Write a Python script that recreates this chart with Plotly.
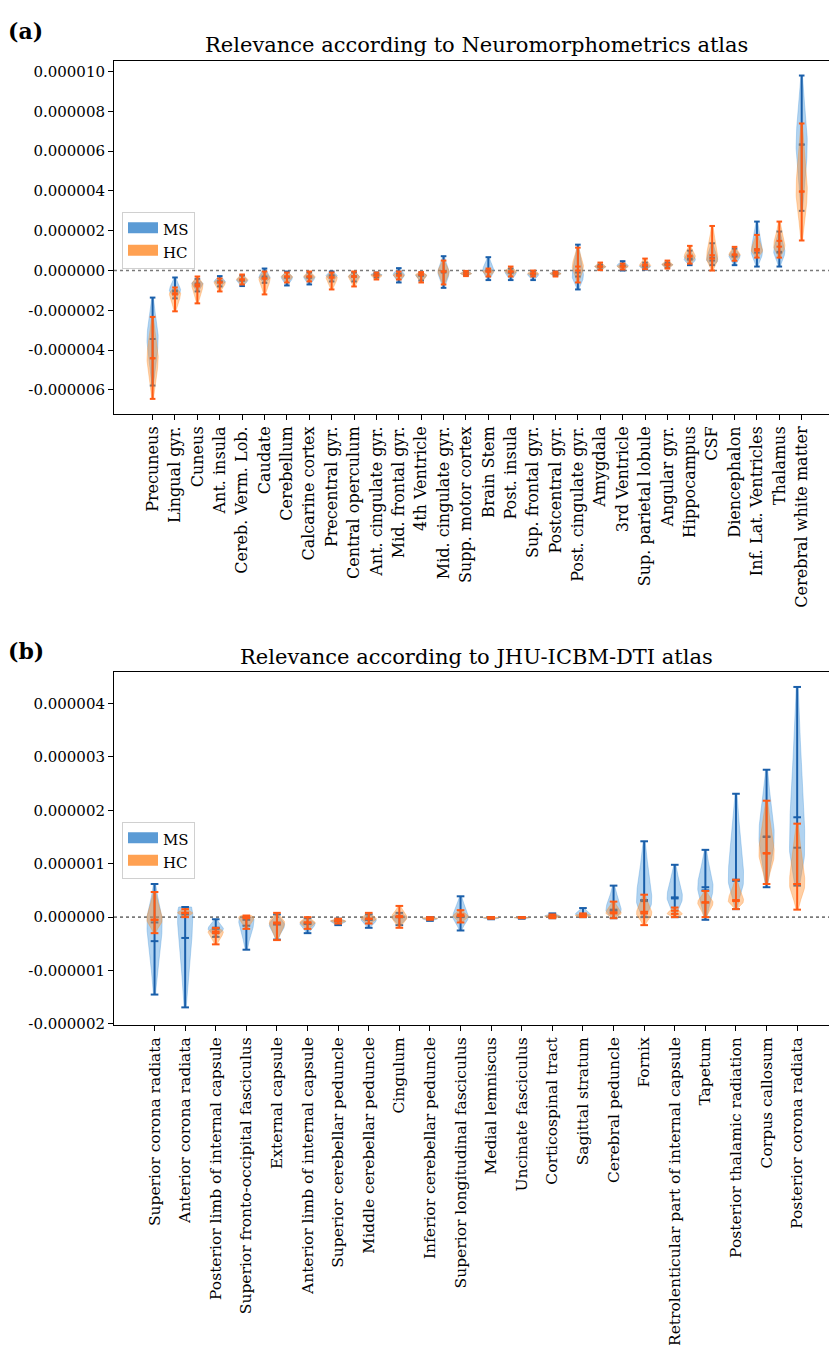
import numpy as np
import plotly.graph_objects as go

UNIT = 1e-6  # values below are in units of 1e-6

# ---------------- Panel (a): Neuromorphometrics atlas ----------------
labels_a = ["Precuneus", "Lingual gyr.", "Cuneus", "Ant. insula", "Cereb. Verm. Lob.",
            "Caudate", "Cerebellum", "Calcarine cortex", "Precentral gyr.", "Central operculum",
            "Ant. cingulate gyr.", "Mid. frontal gyr.", "4th Ventricle", "Mid. cingulate gyr.",
            "Supp. motor cortex", "Brain Stem", "Post. insula", "Sup. frontal gyr.",
            "Postcentral gyr.", "Post. cingulate gyr.", "Amygdala", "3rd Ventricle",
            "Sup. parietal lobule", "Angular gyr.", "Hippocampus", "CSF", "Diencephalon",
            "Inf. Lat. Ventricles", "Thalamus", "Cerebral white matter"]
ms_min_a = [-5.78, -1.40, -1.05, -0.80, -0.78, -0.62, -0.75, -0.70, -0.55, -0.55,
            -0.35, -0.60, -0.50, -0.87, -0.25, -0.48, -0.48, -0.48, -0.25, -0.95,
            0.05, 0.00, 0.05, 0.15, 0.27, 0.27, 0.27, 0.20, 0.20, 3.00]
ms_max_a = [-1.36, -0.35, -0.42, -0.28, -0.25, 0.10, -0.05, -0.10, -0.05, -0.10,
            -0.10, 0.12, -0.10, 0.72, -0.05, 0.67, 0.10, -0.05, -0.05, 1.30,
            0.30, 0.47, 0.40, 0.40, 1.00, 1.37, 1.10, 2.46, 1.96, 9.80]
ms_med_a = [-3.44, -1.00, -0.65, -0.55, -0.50, -0.35, -0.35, -0.35, -0.25, -0.30,
            -0.20, -0.20, -0.25, -0.10, -0.15, 0.00, -0.10, -0.20, -0.15, -0.30,
            0.20, 0.25, 0.20, 0.30, 0.55, 0.50, 0.74, 0.90, 0.94, 6.33]
ms_mean_a = [-3.44, -1.05, -0.75, -0.55, -0.50, -0.30, -0.35, -0.35, -0.25, -0.30,
             -0.20, -0.15, -0.25, -0.05, -0.15, 0.00, -0.10, -0.20, -0.15, -0.10,
             0.20, 0.25, 0.20, 0.30, 0.60, 0.65, 0.70, 1.07, 0.90, 6.33]
hc_min_a = [-6.45, -2.05, -1.65, -1.05, -0.70, -1.20, -0.60, -0.55, -0.95, -0.80,
            -0.45, -0.45, -0.60, -0.70, -0.28, -0.30, -0.30, -0.30, -0.30, -0.60,
            0.02, 0.05, 0.07, 0.10, 0.35, 0.00, 0.49, 0.65, 0.65, 1.51]
hc_max_a = [-2.33, -0.85, -0.30, -0.40, -0.20, -0.05, -0.10, -0.05, -0.10, -0.05,
            -0.10, -0.05, -0.08, 0.50, -0.02, 0.10, 0.20, 0.00, -0.05, 1.15,
            0.40, 0.35, 0.60, 0.50, 1.24, 2.24, 1.19, 1.79, 2.46, 7.39]
hc_med_a = [-4.41, -1.15, -0.70, -0.60, -0.45, -0.40, -0.30, -0.30, -0.35, -0.30,
            -0.25, -0.25, -0.20, -0.05, -0.15, -0.05, -0.05, -0.15, -0.15, 0.20,
            0.20, 0.20, 0.25, 0.30, 0.70, 0.60, 0.80, 1.00, 1.20, 3.97]
hc_mean_a = [-4.41, -1.20, -0.80, -0.60, -0.45, -0.40, -0.30, -0.30, -0.35, -0.30,
             -0.25, -0.25, -0.20, -0.05, -0.15, -0.05, -0.05, -0.15, -0.15, 0.00,
             0.20, 0.20, 0.30, 0.30, 0.75, 0.77, 0.80, 1.07, 1.49, 3.97]
yticks_a = [-6, -4, -2, 0, 2, 4, 6, 8, 10]
yticktext_a = ["-0.000006", "-0.000004", "-0.000002", "0.000000", "0.000002",
               "0.000004", "0.000006", "0.000008", "0.000010"]

# ---------------- Panel (b): JHU-ICBM-DTI atlas ----------------
labels_b = ["Superior corona radiata", "Anterior corona radiata",
            "Posterior limb of internal capsule", "Superior fronto-occipital fasciculus",
            "External capsule", "Anterior limb of internal capsule",
            "Superior cerebellar peduncle", "Middle cerebellar peduncle", "Cingulum",
            "Inferior cerebellar peduncle", "Superior longitudinal fasciculus",
            "Medial lemniscus", "Uncinate fasciculus", "Corticospinal tract",
            "Sagittal stratum", "Cerebral peduncle", "Fornix",
            "Retrolenticular part of internal capsule", "Tapetum",
            "Posterior thalamic radiation", "Corpus callosum", "Posterior corona radiata"]
ms_min_b = [-1.45, -1.69, -0.37, -0.61, -0.42, -0.30, -0.15, -0.20, -0.15, -0.07,
            -0.25, -0.04, -0.03, -0.02, 0.00, -0.02, 0.00, 0.00, -0.05, 0.15, 0.56, 0.59]
ms_max_b = [0.62, 0.19, -0.04, 0.00, 0.05, -0.02, -0.03, 0.05, 0.08, 0.00,
            0.39, 0.00, 0.00, 0.07, 0.17, 0.59, 1.42, 0.98, 1.26, 2.31, 2.76, 4.31]
ms_med_b = [-0.10, 0.05, -0.22, -0.05, -0.14, -0.12, -0.08, -0.05, 0.00, -0.03,
            0.00, -0.02, -0.01, 0.02, 0.05, 0.12, 0.30, 0.37, 0.56, 0.70, 1.51, 1.30]
ms_mean_b = [-0.45, -0.39, -0.20, -0.16, -0.12, -0.13, -0.08, -0.05, 0.00, -0.03,
             0.02, -0.02, -0.01, 0.02, 0.05, 0.14, 0.32, 0.35, 0.50, 0.68, 1.50, 1.87]
hc_min_b = [-0.30, 0.00, -0.51, -0.22, -0.43, -0.22, -0.12, -0.12, -0.20, -0.05,
            -0.10, -0.03, -0.02, -0.02, 0.00, -0.02, -0.15, 0.00, 0.00, 0.15, 0.62, 0.14]
hc_max_b = [0.47, 0.15, -0.20, 0.03, 0.08, 0.00, -0.03, 0.08, 0.21, 0.00,
            0.13, 0.00, 0.00, 0.05, 0.07, 0.29, 0.42, 0.18, 0.49, 0.70, 2.18, 1.75]
hc_med_b = [-0.05, 0.08, -0.27, 0.00, -0.10, -0.10, -0.07, -0.03, 0.00, -0.02,
            0.02, -0.01, -0.01, 0.01, 0.03, 0.07, 0.07, 0.06, 0.27, 0.30, 1.19, 0.62]
hc_mean_b = [-0.05, 0.08, -0.30, -0.02, -0.12, -0.10, -0.07, -0.03, 0.02, -0.02,
             0.05, -0.01, -0.01, 0.01, 0.03, 0.09, 0.10, 0.12, 0.28, 0.32, 1.20, 0.62]
yticks_b = [-2, -1, 0, 1, 2, 3, 4]
yticktext_b = ["-0.000002", "-0.000001", "0.000000", "0.000001", "0.000002",
               "0.000003", "0.000004"]

# ---------------- styling ----------------
FONT = "DejaVu Serif"
MS_BODY = "rgba(70,150,220,0.42)"
HC_BODY = "rgba(255,140,40,0.42)"
MS_LINE = "#1a5faa"
HC_LINE = "#ff5a14"
HALF_W = 0.25   # max half width of violin body (category units)
CAP = 0.125     # half length of extrema / mean / median lines


def body_xy(positions, lo, hi, med):
    xs, ys = [], []
    for p, a, b, m in zip(positions, lo, hi, med):
        span = b - a
        if span <= 0:
            span = 0.01
            b = a + span
        m = min(max(m, a), b)
        yy = np.linspace(a, b, 60)
        sl = max(m - a, 0.25 * span) / 2.0
        sh = max(b - m, 0.25 * span) / 2.0
        s = np.where(yy < m, sl, sh)
        w = np.exp(-0.5 * ((yy - m) / s) ** 2)
        w = w / w.max() * HALF_W
        xs += list(p - w) + list((p + w)[::-1]) + [None]
        ys += list(yy * UNIT) + list(yy[::-1] * UNIT) + [None]
    return xs, ys


def lines_xy(positions, lo, hi, med, mean):
    xs, ys = [], []
    for p, a, b, m, mu in zip(positions, lo, hi, med, mean):
        xs += [p, p, None]
        ys += [a * UNIT, b * UNIT, None]
        for v in (a, b, m, mu):
            xs += [p - CAP, p + CAP, None]
            ys += [v * UNIT, v * UNIT, None]
    return xs, ys


fig = go.Figure()


def add_panel(labels, groups, xa, ya):
    pos = list(range(len(labels)))
    for (lo, hi, med, mean, bodyc, linec) in groups:
        bx, by = body_xy(pos, lo, hi, med)
        fig.add_trace(go.Scatter(x=bx, y=by, mode="lines", fill="toself", fillcolor=bodyc,
                                 line=dict(color=bodyc, width=0.8), hoverinfo="skip",
                                 showlegend=False, xaxis=xa, yaxis=ya))
        lx, ly = lines_xy(pos, lo, hi, med, mean)
        fig.add_trace(go.Scatter(x=lx, y=ly, mode="lines", line=dict(color=linec, width=2),
                                 hoverinfo="skip", showlegend=False, xaxis=xa, yaxis=ya))


add_panel(labels_a, [(ms_min_a, ms_max_a, ms_med_a, ms_mean_a, MS_BODY, MS_LINE),
                     (hc_min_a, hc_max_a, hc_med_a, hc_mean_a, HC_BODY, HC_LINE)], "x", "y")
add_panel(labels_b, [(ms_min_b, ms_max_b, ms_med_b, ms_mean_b, MS_BODY, MS_LINE),
                     (hc_min_b, hc_max_b, hc_med_b, hc_mean_b, HC_BODY, HC_LINE)], "x2", "y2")

# legend entries
for lg, xa, ya in (("legend", "x", "y"), ("legend2", "x2", "y2")):
    fig.add_trace(go.Scatter(x=[None], y=[None], mode="lines", fill="toself",
                             fillcolor="#5b9bd5", line=dict(color="#5b9bd5", width=10),
                             name="MS", legend=lg, xaxis=xa, yaxis=ya))
    fig.add_trace(go.Scatter(x=[None], y=[None], mode="lines", fill="toself",
                             fillcolor="#ffa152", line=dict(color="#ffa152", width=10),
                             name="HC", legend=lg, xaxis=xa, yaxis=ya))

H = 1345.0
W = 829.0
L = 114.0


def py(pix):
    return 1 - pix / H


def px(pix):
    return (pix - L) / (W - L)


axis_common = dict(showline=True, linecolor="black", linewidth=1, ticks="outside",
                   ticklen=5, tickcolor="black", showgrid=False, zeroline=False,
                   automargin=False)
ytickfont = dict(family=FONT, size=15, color="black")

legend_common = dict(xref="paper", yref="paper", xanchor="left", yanchor="top",
                     bgcolor="white", bordercolor="#d0d0d0", borderwidth=1,
                     itemwidth=30, tracegroupgap=0,
                     font=dict(family=FONT, size=15, color="black"))

fig.update_layout(
    width=829, height=1345,
    margin=dict(l=114, r=0, t=0, b=0, autoexpand=False),
    plot_bgcolor="white", paper_bgcolor="white",
    font=dict(family=FONT, size=15, color="black"),
    xaxis=dict(domain=[0, 1], range=[-1.725, 30.22], tickmode="array",
               tickvals=list(range(len(labels_a))), ticktext=labels_a, tickangle=-90,
               mirror=True, anchor="y", tickfont=dict(family=FONT, size=16, color="black"),
               **axis_common),
    yaxis=dict(domain=[py(414), py(61)], range=[-7.21 * UNIT, 10.53 * UNIT],
               tickmode="array", tickvals=[v * UNIT for v in yticks_a],
               ticktext=yticktext_a, anchor="x", tickfont=ytickfont, **axis_common),
    xaxis2=dict(domain=[0, 1], range=[-1.325, 22.04], tickmode="array",
                tickvals=list(range(len(labels_b))), ticktext=labels_b, tickangle=-90,
                mirror=True, anchor="y2", tickfont=dict(family=FONT, size=15.5, color="black"),
                **axis_common),
    yaxis2=dict(domain=[py(1025), py(672)], range=[-2.02 * UNIT, 4.59 * UNIT],
                tickmode="array", tickvals=[v * UNIT for v in yticks_b],
                ticktext=yticktext_b, anchor="x2", tickfont=ytickfont, **axis_common),
    legend=dict(x=px(122), y=py(212), **legend_common),
    legend2=dict(x=px(122), y=py(822), **legend_common),
    shapes=[
        dict(type="line", xref="x domain", yref="y", x0=0, x1=1, y0=0, y1=0,
             line=dict(color="#7a7a7a", width=1.6, dash="dot"), layer="below"),
        dict(type="line", xref="x2 domain", yref="y2", x0=0, x1=1, y0=0, y1=0,
             line=dict(color="#7a7a7a", width=1.6, dash="dot"), layer="below"),
    ],
    annotations=[
        dict(text="Relevance according to Neuromorphometrics atlas", xref="paper", yref="paper",
             x=px(476), y=py(45), xanchor="center", yanchor="middle",
             showarrow=False, font=dict(family=FONT, size=21)),
        dict(text="Relevance according to JHU-ICBM-DTI atlas", xref="paper", yref="paper",
             x=px(476), y=py(657), xanchor="center", yanchor="middle",
             showarrow=False, font=dict(family=FONT, size=21)),
        dict(text="<b>(a)</b>", xref="paper", yref="paper", x=px(6),
             y=py(31), xanchor="left", yanchor="middle", showarrow=False,
             font=dict(family=FONT, size=22)),
        dict(text="<b>(b)</b>", xref="paper", yref="paper", x=px(6),
             y=py(651), xanchor="left", yanchor="middle", showarrow=False,
             font=dict(family=FONT, size=22)),
    ],
)

fig.write_html("out.html", config={"displayModeBar": False},
               post_script="document.body.style.margin='0';")
